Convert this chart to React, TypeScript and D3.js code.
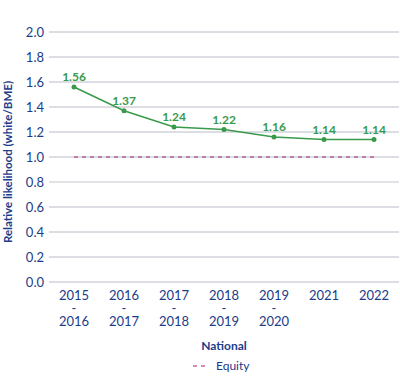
import React, { useEffect, useRef } from "react";
import * as d3 from "d3";

// values
const periods = ["2015\n-\n2016", "2016\n-\n2017", "2017\n-\n2018", "2018\n-\n2019", "2019\n-\n2020", "2021", "2022"];
const nationalValues = [1.56, 1.37, 1.24, 1.22, 1.16, 1.14, 1.14];
const equityValues = [1, 1, 1, 1, 1, 1, 1];
const yTicks = [0, 0.2, 0.4, 0.6, 0.8, 1.0, 1.2, 1.4, 1.6, 1.8, 2.0];

const App = () => {
    const ref = useRef<SVGSVGElement>(null);

    useEffect(() => {
        const svg = d3.select(ref.current);
        svg.selectAll("*").remove();

        const width = 400;
        const height = 389;
        const margin = { top: 32, right: 1, bottom: 107, left: 49 };
        const blue = "#1b3c8a";
        const green = "#3a9a4b";
        const purple = "#9c1f6e";
        const font = "Lato, 'Open Sans', sans-serif";

        const x = d3.scaleBand()
            .domain(periods)
            .range([margin.left, width - margin.right]);

        const y = d3.scaleLinear()
            .domain([0, 2])
            .range([height - margin.bottom, margin.top]);

        // grid lines
        svg.append("g")
            .selectAll("line")
            .data(yTicks)
            .enter().append("line")
            .attr("x1", margin.left)
            .attr("x2", width - margin.right)
            .attr("y1", d => y(d))
            .attr("y2", d => y(d))
            .attr("stroke", d => d === 0.8 ? "#d8dadf" : "#b9bcc6")
            .attr("stroke-width", d => d === 0.8 ? 1.6 : 1);

        // y tick labels
        svg.append("g")
            .selectAll("text")
            .data(yTicks)
            .enter().append("text")
            .attr("x", 44)
            .attr("y", d => y(d))
            .attr("dy", "0.35em")
            .attr("text-anchor", "end")
            .attr("font-family", font)
            .attr("font-size", 13)
            .attr("fill", blue)
            .text(d => d.toFixed(1));

        // x tick labels
        const xl = svg.append("g")
            .selectAll("text")
            .data(periods)
            .enter().append("text")
            .attr("x", d => x(d)! + x.bandwidth() / 2)
            .attr("y", 300)
            .attr("text-anchor", "middle")
            .attr("font-family", font)
            .attr("font-size", 13)
            .attr("fill", blue);
        xl.selectAll("tspan")
            .data(d => d.split("\n"))
            .enter().append("tspan")
            .attr("x", function () { return (this.parentNode as SVGTextElement).getAttribute("x"); })
            .attr("dy", (d, i) => i === 0 ? 0 : 13)
            .text(d => d);

        // axis titles
        svg.append("text")
            .attr("transform", `translate(12, 162) rotate(-90)`)
            .attr("text-anchor", "middle")
            .attr("font-family", font)
            .attr("font-size", 11.5)
            .attr("font-weight", "bold")
            .attr("fill", blue)
            .text("Relative likelihood (white/BME)");

        svg.append("text")
            .attr("x", 224)
            .attr("y", 350)
            .attr("text-anchor", "middle")
            .attr("font-family", font)
            .attr("font-size", 12)
            .attr("font-weight", "bold")
            .attr("fill", blue)
            .text("National");

        // equity line
        const line = d3.line<number>()
            .x((d, i) => x(periods[i])! + x.bandwidth() / 2)
            .y(d => y(d));

        svg.append("path")
            .attr("d", line(equityValues))
            .attr("fill", "none")
            .attr("stroke", purple)
            .attr("stroke-width", 1)
            .attr("stroke-dasharray", "4,4");

        // national line
        svg.append("path")
            .attr("d", line(nationalValues))
            .attr("fill", "none")
            .attr("stroke", green)
            .attr("stroke-width", 1.5);

        svg.append("g")
            .selectAll("circle")
            .data(nationalValues)
            .enter().append("circle")
            .attr("cx", (d, i) => x(periods[i])! + x.bandwidth() / 2)
            .attr("cy", d => y(d))
            .attr("r", 2.5)
            .attr("fill", green);

        svg.append("g")
            .selectAll("text")
            .data(nationalValues)
            .enter().append("text")
            .attr("x", (d, i) => x(periods[i])! + x.bandwidth() / 2)
            .attr("y", d => y(d) - 6)
            .attr("text-anchor", "middle")
            .attr("font-family", font)
            .attr("font-size", 12)
            .attr("font-weight", "bold")
            .attr("fill", green)
            .text(d => d.toFixed(2));

        // legend
        svg.append("line")
            .attr("x1", 193)
            .attr("x2", 205)
            .attr("y1", 366)
            .attr("y2", 366)
            .attr("stroke", purple)
            .attr("stroke-width", 1)
            .attr("stroke-dasharray", "4,4");

        svg.append("text")
            .attr("x", 216)
            .attr("y", 370)
            .attr("font-family", font)
            .attr("font-size", 12)
            .attr("fill", blue)
            .text("Equity");
    });

    return (
        <svg ref={ref} width={400} height={389} style={{ position: "absolute", left: 0, top: 0 }} />
    );
};

export default App;
